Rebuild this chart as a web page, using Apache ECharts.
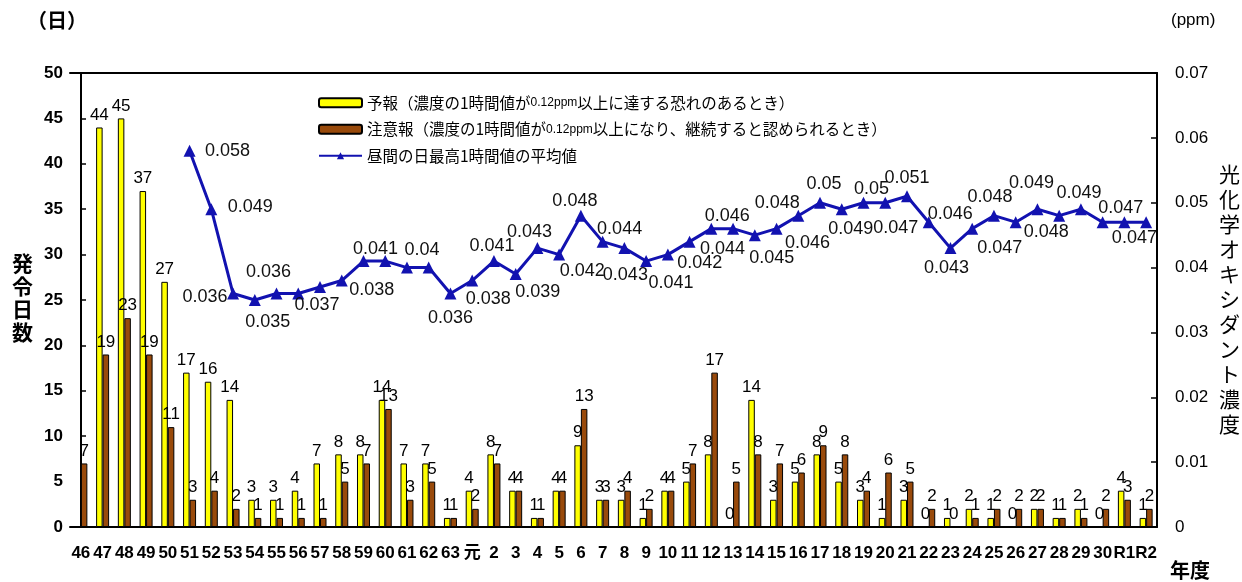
<!DOCTYPE html>
<html>
<head>
<meta charset="utf-8">
<script src="https://cdn.jsdelivr.net/npm/echarts@6/dist/echarts.min.js"></script>
<style>
  html, body { margin: 0; padding: 0; background: #fff; }
  #chart { width: 1242px; height: 582px; }
</style>
</head>
<body>
<div id="chart"></div>
<script>
const categories = ['46','47','48','49','50','51','52','53','54','55','56','57','58','59','60','61','62','63',
  '元','2','3','4','5','6','7','8','9','10','11','12','13','14','15','16','17','18','19','20','21','22','23','24','25','26','27','28','29','30','R1','R2'];

const forecastDays = [null,44,45,37,27,17,16,14,3,3,4,7,8,8,14,7,7,1,
  4,8,4,1,4,9,3,3,1,4,5,8,0,14,3,5,8,5,3,1,3,0,1,2,1,0,2,1,2,0,4,1];

const warningDays = [7,19,23,19,11,3,4,2,1,1,1,1,5,7,13,3,5,1,
  2,7,4,1,4,13,3,4,2,4,7,17,5,8,7,6,9,8,4,6,5,2,0,1,2,2,2,1,1,2,3,2];

const oxidantPpm = [null,null,null,null,null,0.058,0.049,0.036,0.035,0.036,0.036,0.037,0.038,0.041,0.041,0.040,0.040,0.036,
  0.038,0.041,0.039,0.043,0.042,0.048,0.044,0.043,0.041,0.042,0.044,0.046,0.046,0.045,0.046,0.048,0.050,0.049,0.050,0.050,0.051,
  0.047,0.043,0.046,0.048,0.047,0.049,0.048,0.049,0.047,0.047,0.047];

const leftTicks = { min: 0, max: 50, interval: 5 };
const rightTicks = { min: 0, max: 0.07, interval: 0.01 };

const seriesNames = [
  '予報（濃度の1時間値が0.12ppm以上に達する恐れのあるとき）',
  '注意報（濃度の1時間値が0.12ppm以上になり、継続すると認められるとき）',
  '昼間の日最高1時間値の平均値'
];

// style only: label offset (px) of each line label from its point; null = label not shown
const lineLabelOffsets = [null,null,null,null,null,
  [38,0],[39,-2],[-28,4],[13,22],[-8,-21],null,[-3,18],[30,9],[12,-12],null,[15,-18],null,[0,25],
  [16,18],[-2,-15],[22,18],[-8,-16],[23,16],[-6,-15],[17,-13],[1,27],[25,22],[32,8],[33,7],[16,-13],null,
  [17,23],[31,14],[-21,-13],[4,-19],[9,20],[8,-14],null,[0,-18],[-33,6],[-4,20],[-22,-15],[-4,-19],
  [-16,26],[-6,-26],[-13,16],[-2,-16],[18,-14],[10,16],null];

const FONT = '"Liberation Sans", "Noto Sans CJK JP", sans-serif';
const JFONT = '"Noto Sans CJK JP", "Liberation Sans", sans-serif';

const lineData = oxidantPpm.map((v, i) => {
  if (v == null) return '-';
  const off = lineLabelOffsets[i];
  if (!off) return { value: v, label: { show: false } };
  return { value: v, label: { show: true, position: 'inside', offset: off, align: 'center', verticalAlign: 'middle' } };
});

const chart = echarts.init(document.getElementById('chart'), null, { renderer: 'canvas' });
chart.setOption({
  animation: false,
  backgroundColor: '#fff',
  textStyle: { fontFamily: FONT },
  grid: { left: 70, right: 85, top: 73, bottom: 55, containLabel: false },
  legend: {
    orient: 'vertical',
    left: 313,
    top: 90,
    itemWidth: 43,
    itemHeight: 9,
    itemGap: 11,
    data: seriesNames,
    textStyle: {
      fontFamily: JFONT, fontSize: 15.5, color: '#000',
      rich: { s: { fontFamily: FONT, fontSize: 12, color: '#000' } }
    },
    formatter: name => name.replace('0.12ppm', '{s|0.12ppm}')
  },
  xAxis: [{
    type: 'category',
    data: categories,
    boundaryGap: true,
    axisLine: { show: true, lineStyle: { color: '#000', width: 2 } },
    axisTick: { show: false },
    axisLabel: { interval: 0, color: '#000', fontSize: 17, fontWeight: 'bold', margin: 18, fontFamily: FONT }
  }, {
    type: 'category',
    data: categories,
    position: 'top',
    axisLine: { show: true, onZero: false, lineStyle: { color: '#000', width: 2 } },
    axisTick: { show: false },
    axisLabel: { show: false }
  }],
  yAxis: [{
    type: 'value',
    min: leftTicks.min, max: leftTicks.max, interval: leftTicks.interval,
    position: 'left',
    offset: -11,
    axisLine: { show: true, lineStyle: { color: '#000', width: 2 } },
    axisTick: { show: true, inside: true, length: 5, lineStyle: { color: '#000', width: 1.5 } },
    axisLabel: { color: '#000', fontSize: 17, fontWeight: 'bold', margin: 18, fontFamily: FONT },
    splitLine: { show: false }
  }, {
    type: 'value',
    min: rightTicks.min, max: rightTicks.max, interval: rightTicks.interval,
    position: 'right',
    axisLine: { show: true, lineStyle: { color: '#000', width: 2 } },
    axisTick: { show: true, inside: true, length: 6, lineStyle: { color: '#000', width: 1.5 } },
    axisLabel: { color: '#000', fontSize: 17, margin: 18, fontFamily: FONT, formatter: v => String(+v.toFixed(2)) },
    splitLine: { show: false }
  }],
  series: [{
    name: seriesNames[0],
    type: 'bar',
    data: forecastDays,
    barWidth: 6.5,
    barGap: '0%',
    itemStyle: { color: '#FFFF00', borderColor: '#000', borderWidth: 1 },
    label: { show: true, position: 'top', distance: 4, color: '#000', fontSize: 17, fontFamily: FONT }
  }, {
    name: seriesNames[1],
    type: 'bar',
    data: warningDays,
    barWidth: 6.5,
    barGap: '0%',
    itemStyle: { color: '#994A0B', borderColor: '#000', borderWidth: 1 },
    label: { show: true, position: 'top', distance: 4, color: '#000', fontSize: 17, fontFamily: FONT }
  }, {
    name: seriesNames[2],
    type: 'line',
    yAxisIndex: 1,
    data: lineData,
    symbol: 'triangle',
    symbolSize: 12,
    lineStyle: { color: '#1212B0', width: 3 },
    itemStyle: { color: '#1212B0' },
    label: { show: true, color: '#111', fontSize: 18, fontFamily: FONT }
  }],
  graphic: [
    { type: 'text', left: 27, top: 10, style: { text: '（日）', font: 'bold 20px ' + JFONT, fill: '#000' } },
    { type: 'text', left: 12, top: 252, style: { text: '発\n令\n日\n数', font: 'bold 21px ' + JFONT, fill: '#000', lineHeight: 23 } },
    { type: 'text', left: 1171, top: 12, style: { text: '(ppm)', font: '17px ' + FONT, fill: '#000' } },
    { type: 'text', left: 1219, top: 162, style: { text: '光\n化\n学\nオ\nキ\nシ\nダ\nン\nト\n濃\n度', font: '21px ' + JFONT, fill: '#000', lineHeight: 25 } },
    { type: 'text', left: 1170, top: 560, style: { text: '年度', font: 'bold 20px ' + JFONT, fill: '#000' } }
  ]
});
</script>
</body>
</html>
